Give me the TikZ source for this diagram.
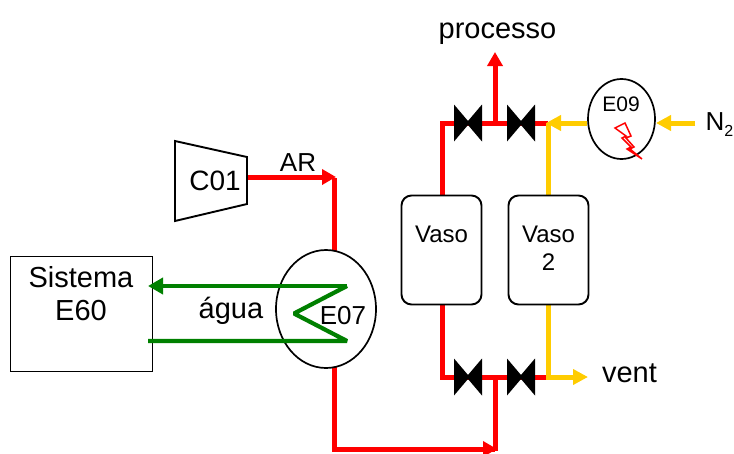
\documentclass[tikz,border=0pt]{standalone}
\usepackage{fontspec}
\setmainfont{Liberation Sans}
\usetikzlibrary{arrows.meta}
\definecolor{pipered}{RGB}{255,0,0}
\definecolor{pipeyel}{RGB}{255,204,0}
\definecolor{pipegrn}{RGB}{0,128,0}
\tikzset{
  redpipe/.style={draw=pipered,line width=5pt,line join=miter},
  yelpipe/.style={draw=pipeyel,line width=5pt,line join=miter},
  grnpipe/.style={draw=pipegrn,line width=4.2pt,line join=bevel},
  redtip/.style={-{Triangle[length=14pt,width=15pt]}},
  yeltip/.style={-{Triangle[length=15pt,width=15pt]}},
  outl/.style={draw=black,line width=1.9pt,fill=white},
  lbl/.style={inner sep=0pt,align=center,text=black},
  valveshape/.style={fill=black,draw=none},
  pt/.style={inner sep=0pt,minimum size=0pt}
}
\newcommand{\fs}[1]{\fontsize{#1}{#1}\selectfont}
\newcommand{\valve}[2]{\fill[valveshape] (#1-14,#2-18.5) -- (#1,#2-2) -- (#1+14,#2-18.5) -- (#1+14,#2+18.5) -- (#1,#2+2) -- (#1-14,#2+18.5) -- cycle;}
\begin{document}
\begin{tikzpicture}[x=1pt,y=-1pt]
\useasboundingbox (0,0) rectangle (734,453);
% coordinates
\coordinate (c01out) at (247,177);
\coordinate (arEnd) at (336,177);
\coordinate (tee) at (495,377);
\coordinate (lowL) at (442,377);
\coordinate (lowR) at (548,377);
\coordinate (upL) at (442,123);
\coordinate (upR) at (548,123);
\coordinate (teeUp) at (495,123);
\coordinate (procEnd) at (495,52);
\coordinate (n2start) at (695,123);
\coordinate (ventEnd) at (588,377);
% red pipes
\draw[redpipe,redtip] (c01out) -- (arEnd);
\draw[redpipe] (334.5,178) -- (334.5,449) -- (495,449);
\draw[redpipe,redtip] (335,449) -- (497,449);
\draw[redpipe] (495,451) -- (tee);
\draw[redpipe] (442,305) -- (lowL) -- (lowR);
\draw[redpipe] (442,195) -- (upL) -- (upR);
\draw[redpipe,redtip] (teeUp) -- (procEnd);
% yellow
\draw[yelpipe] (548,195) -- (upR);
\draw[yelpipe,yeltip] (587,123) -- (546,123);
\draw[yelpipe,yeltip] (n2start) -- (656,123);
\draw[yelpipe,yeltip] (548,305) -- (lowR) -- (ventEnd);
% valves
\valve{468}{123}\valve{521}{123}\valve{468}{377}\valve{521}{377}
% vessels
\node[outl,rounded corners=10pt,minimum width=80pt,minimum height=109pt,inner sep=0pt] (vaso) at (441.5,250) {};
\node[outl,rounded corners=10pt,minimum width=80pt,minimum height=109pt,inner sep=0pt] (vaso2) at (548.5,250) {};
\node[lbl,font=\fs{24}] (vasoT) at (441.5,234) {Vaso};
\node[lbl,font=\fs{24}] (vaso2T) at (548.5,234) {Vaso};
\node[lbl,font=\fs{24}] (vaso2N) at (548.5,262) {2};
% C01
\draw[outl] (175,141) -- (247,157) -- (247,204) -- (175,221) -- cycle;
\node[lbl,font=\fs{28}] (c01T) at (215,181) {C01};
\node[lbl,font=\fs{26}] (arT) at (298,163) {AR};
% Sistema
\node[outl,minimum width=142pt,minimum height=115pt,inner sep=0pt] (sis) at (81.5,314) {};
\node[lbl,font=\fs{29}] (sisT) at (81,277) {Sistema};
\node[lbl,font=\fs{29}] (sisU) at (81,311) {E60};
% E07
\draw[draw=black,line width=1.7pt,fill=white] (326,309) ellipse (50 and 59);
\node[pt] (e07) at (326,309) {};
\draw[grnpipe] (148,341) -- (347,341) -- (294,313.5) -- (347,286);
\draw[grnpipe,-{Triangle[length=15pt,width=16pt]}] (347,286) -- (148,286);
\node[lbl,font=\fs{29}] (aguaT) at (231,311) {água};
\node[lbl,font=\fs{26}] (e07T) at (343,316) {E07};
% E09
\draw[draw=black,line width=1.7pt,fill=white] (621.5,119) ellipse (33.5 and 40);
\node[lbl,font=\fs{21}] (e09T) at (621,104) {E09};
\draw[draw=pipered,line width=1.5pt,line join=miter,fill=white] (615,128) -- (625,123) -- (631,136) -- (626,138) -- (634,147) -- (630,149) -- (642,159) -- (627,149) -- (631,147) -- (622,138) -- (626,136) -- cycle;
% labels
\node[lbl,font=\fs{29}] (proc) at (497.5,34) {processo};
\node[lbl,font=\fs{29}] (vent) at (629.5,373.5) {vent};
\node[lbl,font=\fs{26},anchor=west] (n2) at (705.5,125) {N\raisebox{-6pt}{\fs{16}2}};
\end{tikzpicture}
\end{document}
